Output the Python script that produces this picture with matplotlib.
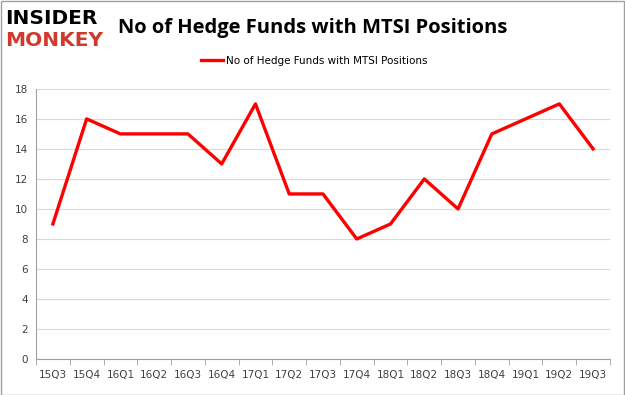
import matplotlib.pyplot as plt

# Datos del gráfico
trimestres = ['15Q3', '15Q4', '16Q1', '16Q2', '16Q3', '16Q4', '17Q1', '17Q2', '17Q3',
              '17Q4', '18Q1', '18Q2', '18Q3', '18Q4', '19Q1', '19Q2', '19Q3']
fondos = [9, 16, 15, 15, 15, 13, 17, 11, 11, 8, 9, 12, 10, 15, 16, 17, 14]
etiqueta = 'No of Hedge Funds with MTSI Positions'

fig = plt.figure(figsize=(6.25, 3.95), dpi=100)
ax = fig.add_axes([0.0576, 0.091, 0.9184, 0.684])

x = range(len(trimestres))
ax.plot(x, fondos, color='#ff0000', linewidth=2.4, label=etiqueta)

ax.set_xlim(-0.5, len(trimestres) - 0.5)
ax.set_ylim(0, 18)
ax.set_yticks(range(0, 19, 2))
ax.set_xticks(list(x))
ax.set_xticklabels(trimestres)
ax.set_xticks([i - 0.5 for i in range(len(trimestres) + 1)], minor=True)
ax.tick_params(axis='x', which='major', length=0, pad=8, labelsize=7.5, colors='#404040')
ax.tick_params(axis='x', which='minor', length=4, color='#a0a0a0')
ax.tick_params(axis='y', length=0, pad=6, labelsize=7.5, colors='#404040')
ax.grid(axis='y', color='#d9d9d9', linewidth=0.8)
ax.set_axisbelow(True)
for lado in ['top', 'right']:
    ax.spines[lado].set_visible(False)
ax.spines['left'].set_color('#a0a0a0')
ax.spines['bottom'].set_color('#a0a0a0')

# Título y leyenda
fig.text(0.5, 0.93, etiqueta, ha='center', va='center', fontsize=14.5,
         fontweight='bold', family='Open Sans')
ax.legend(loc='center', bbox_to_anchor=(0.484, 1.104), frameon=False,
          fontsize=7.5, handlelength=2.2, handletextpad=0.2)

# Logo
fig.text(0.008, 0.952, 'INSIDER', ha='left', va='center', fontsize=14.5,
         fontweight='heavy', color='black', family='DejaVu Sans')
fig.text(0.008, 0.897, 'MONKEY', ha='left', va='center', fontsize=14.5,
         fontweight='heavy', color='#d0392b', family='DejaVu Sans')

# Borde exterior
fig.patches.append(plt.Rectangle((0.001, 0.001), 0.997, 0.997, transform=fig.transFigure,
                                 fill=False, edgecolor='#a0a0a0', linewidth=1))

plt.savefig('out.png', dpi=100)
